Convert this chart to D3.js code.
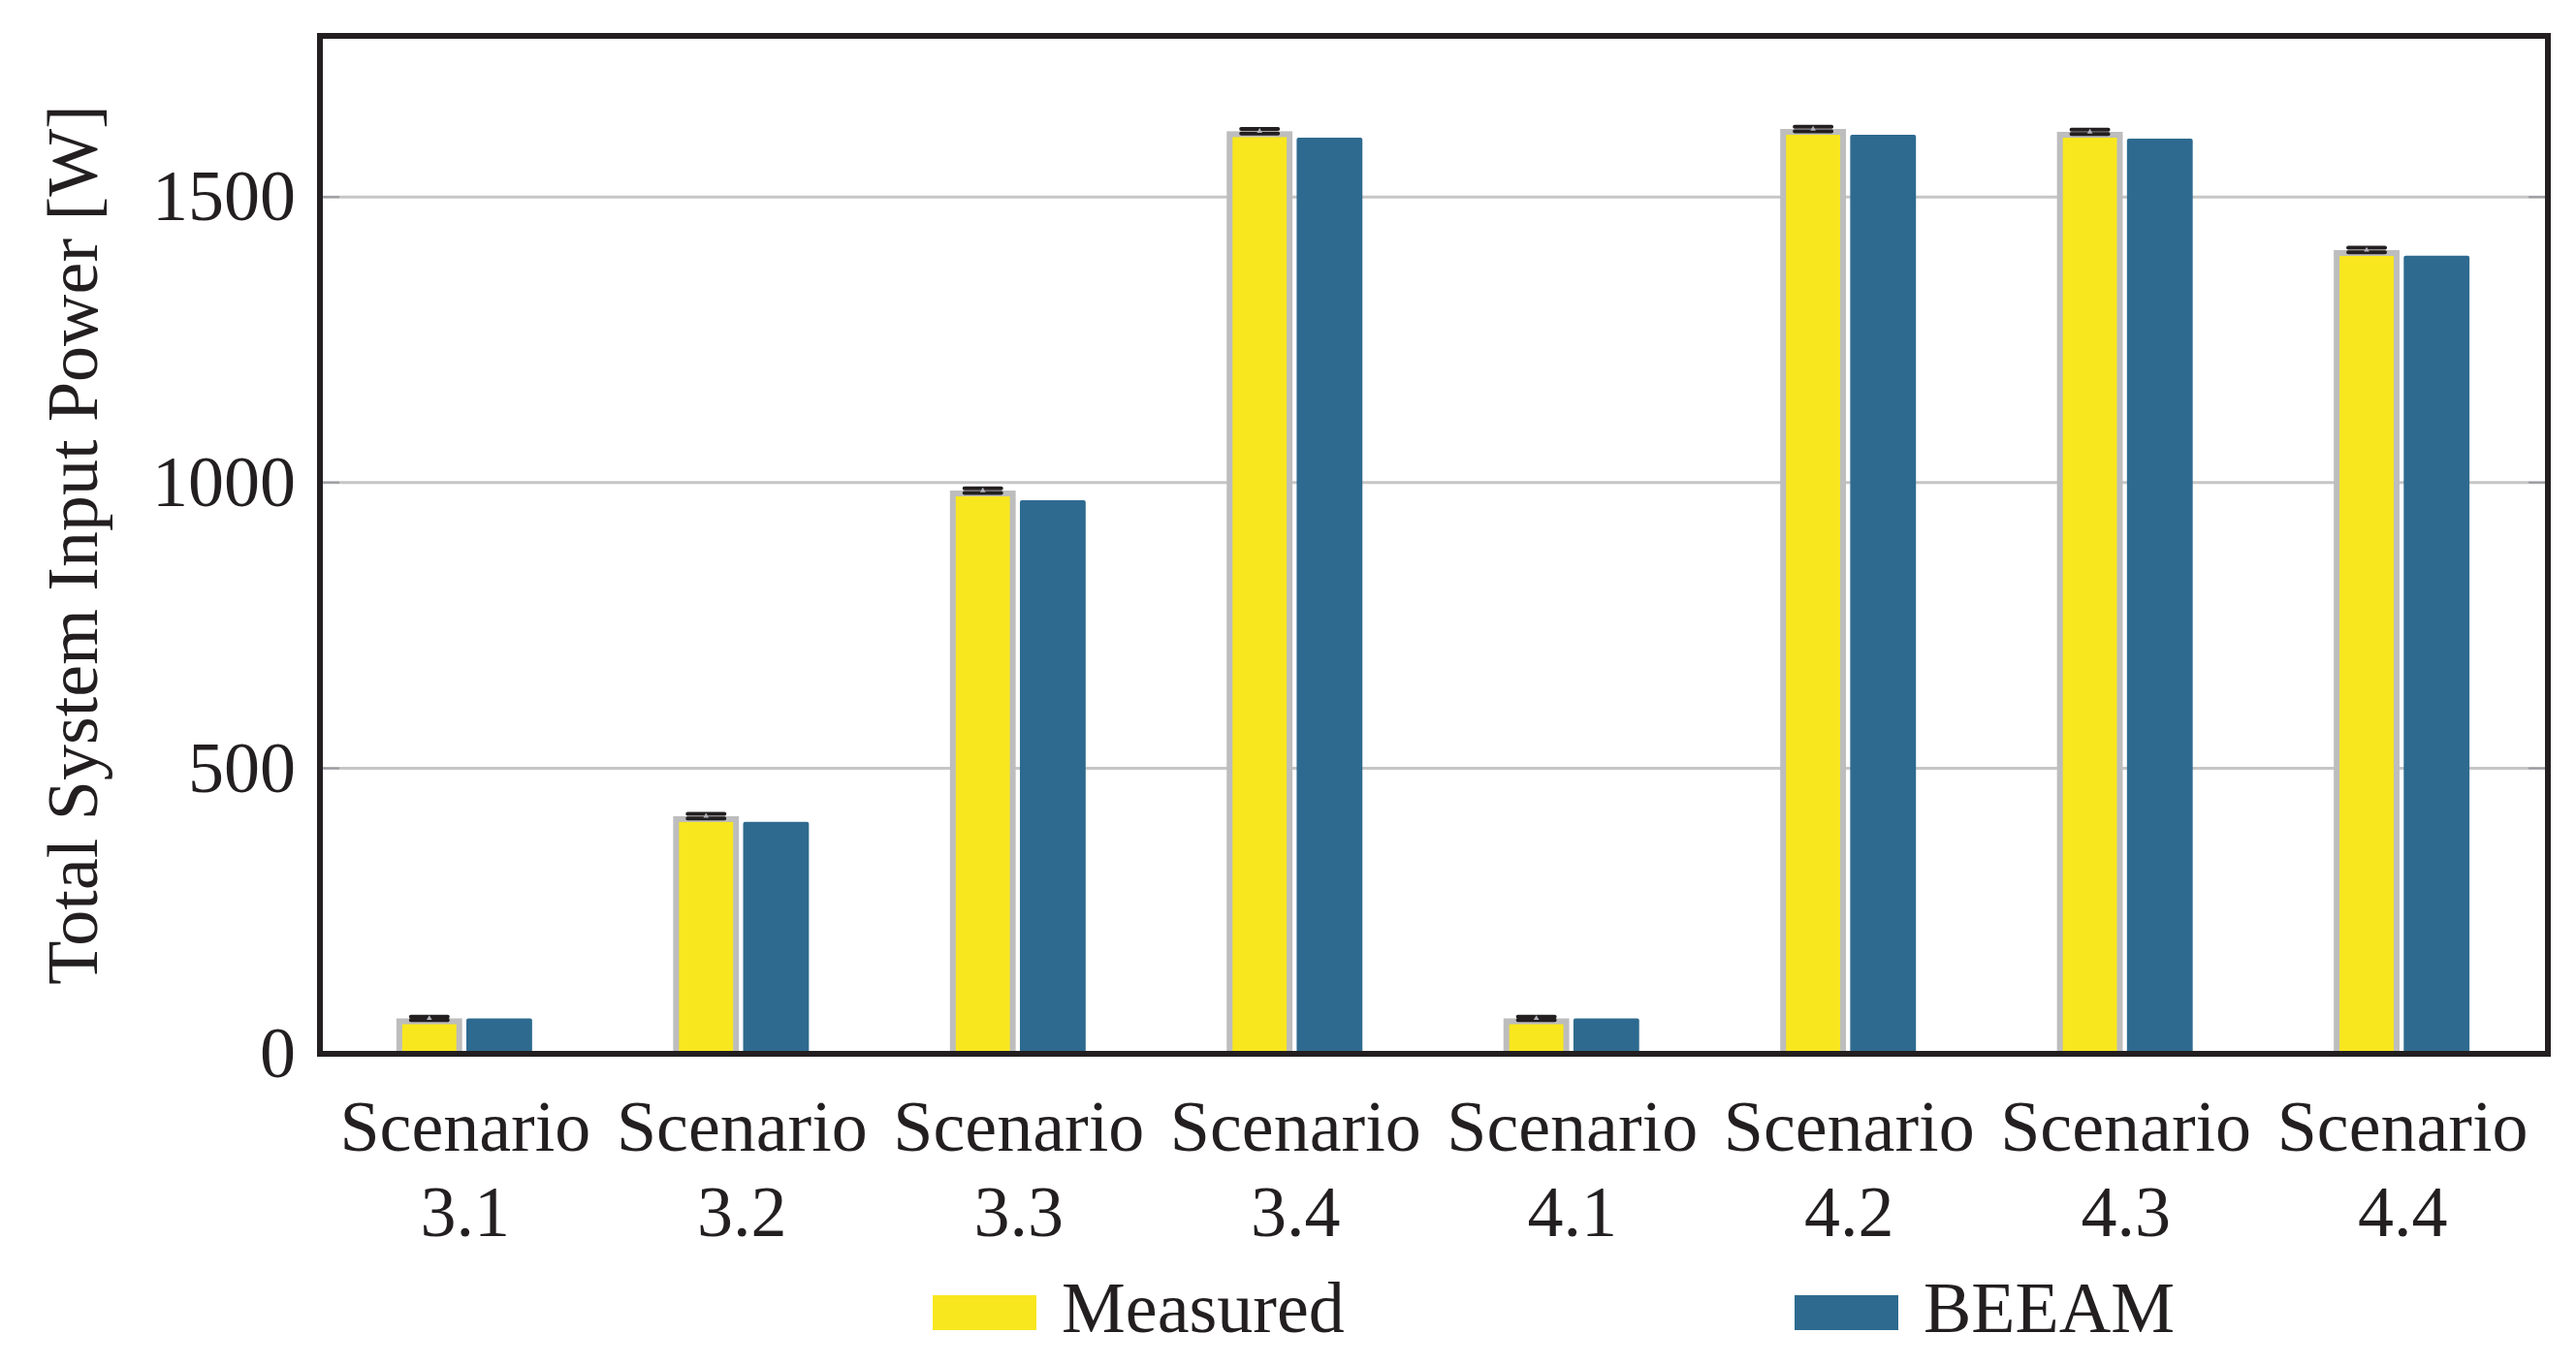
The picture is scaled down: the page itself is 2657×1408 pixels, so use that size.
<!DOCTYPE html>
<html>
<head>
<meta charset="utf-8">
<script src="https://cdn.jsdelivr.net/npm/d3@7"></script>
<style>
  body { margin: 0; background: #fff; }
  text { font-family: "Liberation Serif", "DejaVu Serif", serif; fill: #231f20; }
</style>
</head>
<body>
<svg id="chart"></svg>
<script>
var width = 2657;
var height = 1408;

// data
var scenarios = ["3.1", "3.2", "3.3", "3.4", "4.1", "4.2", "4.3", "4.4"];
var measured = [62, 416, 986, 1615, 62, 1619, 1614, 1407];
var measuredErr = [3, 4, 4, 4, 3, 4, 4, 4];
var beeam = [62, 406, 969, 1604, 62, 1609, 1602, 1397];
var seriesNames = ["Measured", "BEEAM"];
var yTicks = [0, 500, 1000, 1500];

var colors = { Measured: "#f8e71e", BEEAM: "#2e6a8f" };

var frame = { left: 330, right: 2628, top: 37, bottom: 1087 };

var svg = d3.select("#chart")
    .attr("width", width)
    .attr("height", height);

var yScale = d3.scaleLinear()
    .domain([0, 1782])
    .range([frame.bottom, frame.top]);

var xScale = d3.scaleBand()
    .domain(scenarios)
    .range([frame.left, frame.right])
    .paddingInner(0)
    .paddingOuter(0.025);

var half = xScale.bandwidth() / 2;
var subScale = d3.scaleBand()
    .domain(seriesNames)
    .range([half - 71, half + 69])
    .paddingInner(0.06);
var bw = subScale.bandwidth();

// gridlines
svg.append("g")
  .selectAll("line")
  .data(yTicks.filter(d => d > 0))
  .enter()
  .append("line")
    .attr("x1", frame.left)
    .attr("x2", frame.right)
    .attr("y1", d => yScale(d))
    .attr("y2", d => yScale(d))
    .attr("stroke", "#c6c6c6")
    .attr("stroke-width", 3);

// short inner ticks on both sides
svg.append("g")
  .selectAll("path")
  .data(yTicks.filter(d => d > 0))
  .enter()
  .append("path")
    .attr("d", d => "M" + frame.left + "," + yScale(d) + "h20M" + frame.right + "," + yScale(d) + "h-20")
    .attr("stroke", "#9a9aa2")
    .attr("stroke-width", 2);

var groups = svg.append("g")
  .selectAll("g")
  .data(scenarios.map((s, i) => ({ s: s, m: measured[i], e: measuredErr[i], b: beeam[i] })))
  .enter()
  .append("g")
    .attr("transform", d => "translate(" + xScale(d.s) + ",0)");

// measured bars with grey outline
groups.append("rect")
    .attr("x", subScale("Measured") + 3)
    .attr("width", bw - 6)
    .attr("y", d => yScale(d.m) + 3)
    .attr("height", d => yScale(0) - yScale(d.m) - 3)
    .attr("fill", colors.Measured)
    .attr("stroke", "#bdbdbd")
    .attr("stroke-width", 6);

// BEEAM bars
groups.append("rect")
    .attr("x", subScale("BEEAM"))
    .attr("width", bw)
    .attr("y", d => yScale(d.b))
    .attr("height", d => yScale(0) - yScale(d.b))
    .attr("rx", 2)
    .attr("fill", colors.BEEAM);

// error bars on measured
var cx = subScale("Measured") + bw / 2;
groups.append("path")
    .attr("d", d => {
      var hi = yScale(d.m + d.e), lo = yScale(d.m - d.e);
      return "M" + (cx - 19) + "," + hi + "h38M" + (cx - 19) + "," + lo + "h38";
    })
    .attr("stroke", "#231f20")
    .attr("stroke-width", 4)
    .attr("stroke-linecap", "round")
    .attr("fill", "none");

groups.append("path")
    .attr("transform", d => "translate(" + cx + "," + yScale(d.m) + ")")
    .attr("d", d3.symbol(d3.symbolTriangle, 14))
    .attr("fill", "#b0b0b8");

// frame
svg.append("rect")
    .attr("x", frame.left)
    .attr("y", frame.top)
    .attr("width", frame.right - frame.left)
    .attr("height", frame.bottom - frame.top)
    .attr("fill", "none")
    .attr("stroke", "#231f20")
    .attr("stroke-width", 6);

// y axis labels
var yAxis = d3.axisLeft(yScale)
    .tickValues(yTicks)
    .tickFormat(d3.format("d"))
    .tickSize(0)
    .tickPadding(25);

var yg = svg.append("g")
    .attr("transform", "translate(" + frame.left + ",0)")
    .call(yAxis);
yg.select(".domain").remove();
yg.selectAll("text")
    .attr("font-size", 74)
    .attr("font-family", "Liberation Serif")
    .attr("fill", "#231f20");

// x axis labels, two lines
var xAxis = d3.axisBottom(xScale)
    .tickSize(0)
    .tickFormat("");

var xg = svg.append("g")
    .attr("transform", "translate(0," + frame.bottom + ")")
    .call(xAxis);
xg.select(".domain").remove();
xg.selectAll(".tick text")
    .attr("font-size", 74)
    .attr("font-family", "Liberation Serif")
    .attr("fill", "#231f20")
    .attr("text-anchor", "middle")
    .attr("y", null)
    .attr("dy", null)
    .each(function(d) {
      var t = d3.select(this);
      t.append("tspan").attr("x", 0).attr("y", 100).text("Scenario");
      t.append("tspan").attr("x", 0).attr("y", 188).text(d);
    });

// y axis title
svg.append("text")
    .attr("transform", "rotate(-90)")
    .attr("x", -(frame.top + frame.bottom) / 2)
    .attr("y", 100)
    .attr("font-size", 74)
    .style("text-anchor", "middle")
    .text("Total System Input Power [W]");

// legend
var legendX = [962, 1851];
var legend = svg.append("g")
  .selectAll("g")
  .data(seriesNames)
  .enter()
  .append("g")
    .attr("transform", (d, i) => "translate(" + legendX[i] + ",1336)");

legend.append("rect")
    .attr("width", 107)
    .attr("height", 36)
    .attr("fill", d => colors[d]);

legend.append("text")
    .attr("x", 133)
    .attr("y", 38)
    .attr("font-size", 74)
    .text(d => d);
</script>
</body>
</html>
